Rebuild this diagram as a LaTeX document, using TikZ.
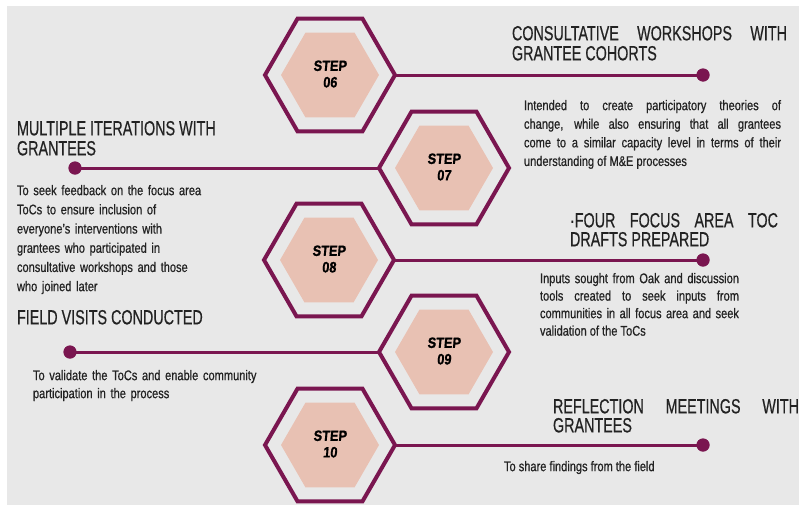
\documentclass[tikz,border=0pt]{standalone}
\usepackage{fontspec}
\setmainfont{Liberation Sans}
\newfontfamily\titlefont{Liberation Sans}[FakeStretch=0.70,FakeBold=0.5]
\newfontfamily\bodyfont{Liberation Sans}[FakeStretch=0.79,FakeBold=0.6]
\newfontfamily\stepfont{Liberation Sans Bold}[FakeStretch=0.85,FakeSlant=0.08,FakeBold=0.8]
\usetikzlibrary{shapes.geometric}
\definecolor{bgc}{HTML}{E8E8E8}
\definecolor{maroon}{HTML}{7A1650}
\definecolor{peach}{HTML}{E8C1B3}
\definecolor{ink}{HTML}{222222}
\tikzset{
  hexout/.style={regular polygon, regular polygon sides=6, minimum size=130pt,
    draw=maroon, line width=4pt, outer sep=0pt, inner sep=0pt},
  hexin/.style={regular polygon, regular polygon sides=6, minimum size=98pt,
    fill=peach, draw=none, outer sep=0pt, inner sep=0pt},
  steplabel/.style={align=center, text=black, inner sep=0pt,
    font=\stepfont\fontsize{15}{16.5}\selectfont},
  link/.style={draw=maroon, line width=3pt},
  enddot/.style={circle, fill=maroon, minimum size=13pt, inner sep=0pt, outer sep=0pt},
  titletext/.style={anchor=north west, inner sep=0pt, outer sep=0pt, text=ink,
    font=\titlefont\fontsize{20.5}{18}\selectfont},
  bodytext/.style={anchor=north west, inner sep=0pt, outer sep=0pt, text=ink,
    font=\bodyfont\fontsize{14}{17.5}\selectfont},
}
\begin{document}
\begin{tikzpicture}[x=1pt,y=-1pt]
\useasboundingbox (0,0) rectangle (799,504);
\fill[white] (-10,-10) rectangle (820,520);
\fill[bgc] (7,6) rectangle (820,520);

% hexagons
\foreach \n/\x/\y in {6/330/75, 7/444/168, 8/329/260, 9/444/352, 10/330/445}{
  \node[hexin] (i\n) at (\x,\y) {};
  \node[hexout] (h\n) at (\x,\y) {};
}
\node[steplabel] (s6) at ([yshift=1pt]h6) {STEP\\06};
\node[steplabel] (s7) at ([yshift=1pt]h7) {STEP\\07};
\node[steplabel] (s8) at ([yshift=1pt]h8) {STEP\\08};
\node[steplabel] (s9) at ([yshift=1pt]h9) {STEP\\09};
\node[steplabel] (s10) at ([yshift=1pt]h10) {STEP\\10};

% dots
\node[enddot] (d6) at (703,75) {};
\node[enddot] (d7) at (75,168) {};
\node[enddot] (d8) at (703,260) {};
\node[enddot] (d9) at (70,352) {};
\node[enddot] (d10) at (703,445) {};

% connectors
\draw[link] (h6.east) -- (d6.center);
\draw[link] (h7.west) -- (d7.center);
\draw[link] (h8.east) -- (d8.center);
\draw[link] (h9.west) -- (d9.center);
\draw[link] (h10.east) -- (d10.center);
\foreach \n in {6,...,10}{\node[enddot] at (d\n) {};}

% titles (one node per line)
\node[titletext, text width=275pt, align=left] (t6a) at (512,26)
  {CONSULTATIVE\hfill WORKSHOPS\hfill WITH};
\node[titletext] (t6b) at (512,46) {GRANTEE COHORTS};
\node[titletext] (t7a) at (17,121) {MULTIPLE ITERATIONS WITH};
\node[titletext] (t7b) at (17,141) {GRANTEES};
\node[titletext, text width=208pt, align=left] (t8a) at (570,213)
  {·FOUR\hfill FOCUS\hfill AREA\hfill TOC};
\node[titletext] (t8b) at (570,232) {DRAFTS PREPARED};
\node[titletext] (t9) at (17,310) {FIELD VISITS CONDUCTED};
\node[titletext, text width=246pt, align=left] (t10a) at (553,399)
  {REFLECTION\hfill MEETINGS\hfill WITH};
\node[titletext] (t10b) at (553,418) {GRANTEES};

% bodies
\node[bodytext, text width=257pt, align=justify, font=\bodyfont\fontsize{14}{18.6}\selectfont] (b6) at (524,100)
  {Intended to create participatory theories of\linebreak
   change, while also ensuring that all grantees\linebreak
   come to a similar capacity level in terms of their\linebreak
   understanding of M\&E processes};
\node[bodytext, text width=200pt, align=left, font=\bodyfont\fontsize{14}{19.2}\selectfont] (b7) at (17,185)
  {To seek feedback on the focus area\\
   ToCs to ensure inclusion of\\
   everyone’s interventions with\\
   grantees who participated in\\
   consultative workshops and those\\
   who joined later};
\node[bodytext, text width=199pt, align=justify] (b8) at (540,273)
  {Inputs sought from Oak and discussion\linebreak
   tools created to seek inputs from\linebreak
   communities in all focus area and seek\linebreak
   validation of the ToCs};
\node[bodytext, text width=240pt, align=left, font=\bodyfont\fontsize{14}{18}\selectfont] (b9) at (33,370)
  {To validate the ToCs and enable community\\
   participation in the process};
\node[bodytext] (b10) at (504,461) {To share findings from the field};
\end{tikzpicture}
\end{document}
